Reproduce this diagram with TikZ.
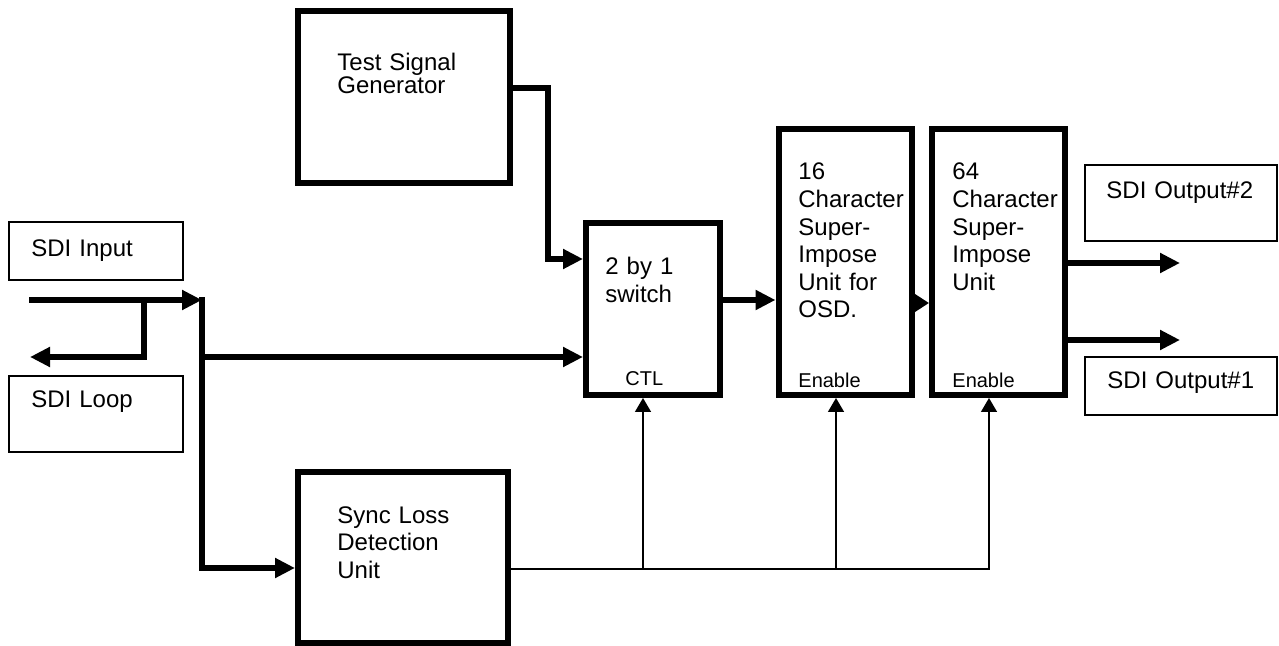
\documentclass[tikz,border=0pt]{standalone}
\usepackage{fontspec}
\setmainfont{Liberation Sans}
\usetikzlibrary{arrows.meta}

\begin{document}
\begin{tikzpicture}[
  x=0.5pt, y=-0.5pt,
  font=\fontsize{12}{13.8}\selectfont,
  unit/.style={rectangle, draw=black, line width=3pt, fill=white, inner sep=0pt},
  port/.style={rectangle, draw=black, line width=1pt, fill=white, inner sep=0pt},
  lbl/.style={anchor=base west, inner sep=0pt, align=left, text width=110pt},
  tag/.style={anchor=base west, inner sep=0pt, font=\fontsize{10}{12}\selectfont},
  bus/.style={-{Triangle[length=10pt, width=9.5pt]}, line width=2.8pt},
  ctl/.style={-{Triangle[length=7pt, width=8pt]}, line width=0.75pt},
]
\useasboundingbox (0,0) rectangle (1279,646);

% --- processing units ---
\node[unit, minimum width=106pt, minimum height=86pt] (tsg) at (404,97) {};
\node[unit, minimum width=67pt, minimum height=86pt] (switch) at (653,309) {};
\node[unit, minimum width=66.5pt, minimum height=133pt] (osd16) at (845,262) {};
\node[unit, minimum width=66.5pt, minimum height=133pt] (osd64) at (998.5,262) {};
\node[unit, minimum width=105pt, minimum height=85.5pt] (sdl) at (403,557.5) {};

% --- in/out ports ---
\node[port, minimum width=87pt, minimum height=29pt] (input) at (96,251) {};
\node[port, minimum width=87pt, minimum height=38pt] (loop) at (96,414) {};
\node[port, minimum width=96pt, minimum height=38pt] (out2) at (1181,203) {};
\node[port, minimum width=96pt, minimum height=29pt] (out1) at (1181,386) {};

% --- texts ---
\node[lbl] (input-t) at (31,257) {SDI Input};
\node[lbl] (loop-t) at (31,408) {SDI Loop};
\node[lbl] (tsg-t) at (337,71) {Test Signal\\[-2.5pt]Generator};
\node[lbl] (sdl-t) at (337,523) {Sync Loss\\Detection\\Unit};
\node[lbl] (switch-t) at (605,275) {2 by 1\\switch};
\node[tag] (switch-c) at (625,386) {CTL};
\node[lbl] (osd16-t) at (798,180) {16\\Character\\Super-\\Impose\\Unit for\\OSD.};
\node[tag] (osd16-e) at (798,387) {Enable};
\node[lbl] (osd64-t) at (952,180) {64\\Character\\Super-\\Impose\\Unit};
\node[tag] (osd64-e) at (952,387) {Enable};
\node[lbl] (out2-t) at (1106,199) {SDI Output\#2};
\node[lbl] (out1-t) at (1107,388) {SDI Output\#1};

% --- free ends and junctions ---
\coordinate (src) at (29,300);
\coordinate (split) at (202,300);
\coordinate (tap) at (144,300);
\coordinate (back) at (30,357);
\coordinate (o2) at (1180,263);
\coordinate (o1) at (1180,340);
\coordinate (j1) at (643,569);
\coordinate (j2) at (836,569);
\coordinate (j3) at (989,569);

% --- video path ---
\draw[bus] (src) -- (split);
\draw[bus] (tap) |- (back);
\draw[bus] ([yshift=1.4pt]split) |- (sdl.west |- 0,568);
\draw[bus] (split |- 0,357) -- (switch.west |- 0,357);
\draw[bus] (tsg.east |- 0,88) -| (548,259) -- (switch.west |- 0,259);
\draw[bus] (switch.east |- 0,300) -- (osd16.west |- 0,300);
\draw[bus, -{Triangle[length=7pt, width=8.5pt]}] (osd16.east |- 0,303) -- (osd64.west |- 0,303);
\draw[bus] (osd64.east |- o2) -- (o2);
\draw[bus] (osd64.east |- o1) -- (o1);

% --- control lines ---
\draw[ctl] (sdl.east |- j1) -| (switch.south -| j1);
\draw[ctl] (j1) -| (osd16.south -| j2);
\draw[ctl] (j2) -| (osd64.south -| j3);

\end{tikzpicture}
\end{document}
